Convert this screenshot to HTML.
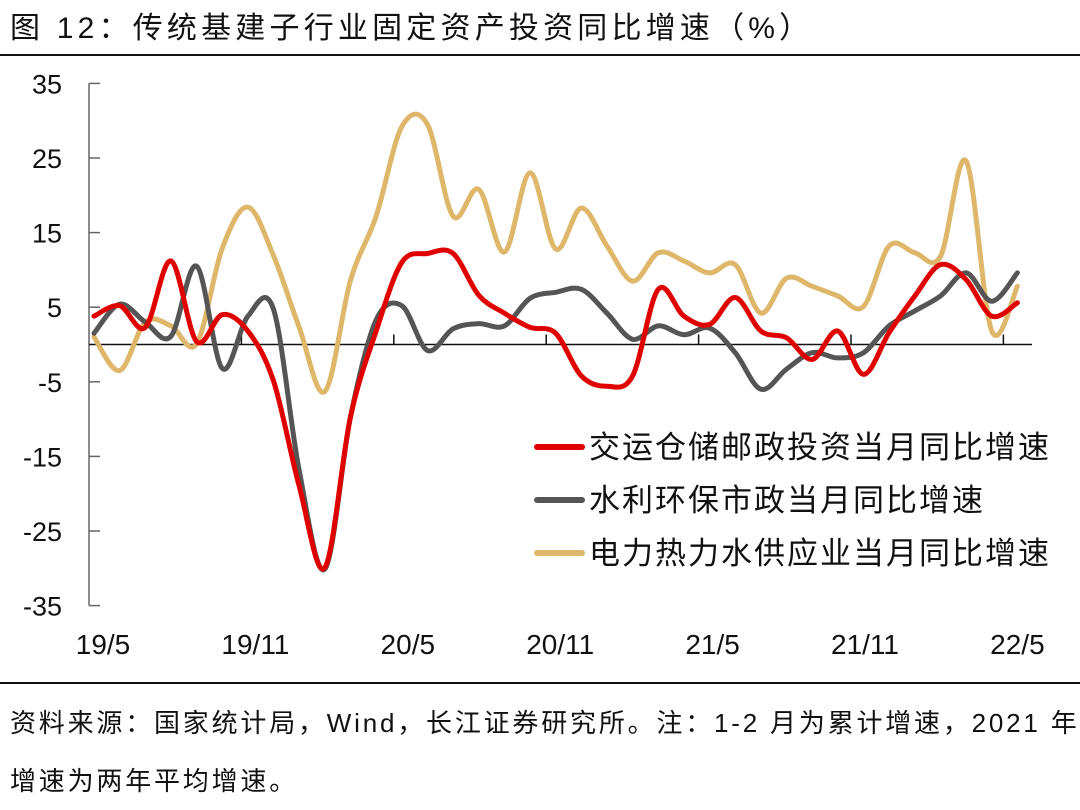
<!DOCTYPE html>
<html><head><meta charset="utf-8"><style>
body{margin:0;background:#fff;width:1080px;height:810px;overflow:hidden;font-family:"Liberation Sans","Noto Sans CJK SC",sans-serif;}
.t{position:absolute;white-space:nowrap;color:#111;}
</style></head><body>
<div class="t" style="left:10px;top:3px;font-size:30px;letter-spacing:4.2px;">图 12：传统基建子行业固定资产投资同比增速（%）</div>
<div style="position:absolute;left:0;top:54px;width:1080px;height:2px;background:#111"></div>
<svg id="chart" width="1080" height="690" style="position:absolute;left:0;top:0" font-family="Liberation Sans, Noto Sans CJK SC, sans-serif"></svg>
<div style="position:absolute;left:0;top:682px;width:1080px;height:2px;background:#111"></div>
<div class="t" style="left:10px;top:703px;font-size:26px;letter-spacing:2.8px;">资料来源：国家统计局，Wind，长江证券研究所。注：1-2 月为累计增速，2021 年</div>
<div class="t" style="left:10px;top:761px;font-size:26px;letter-spacing:2.8px;">增速为两年平均增速。</div>
<script>
const months = 37;
const xLabels = ["19/5","19/11","20/5","20/11","21/5","21/11","22/5"];
const yTicks = [35,25,15,5,-5,-15,-25,-35];
const transport = [3.8,5.2,2.3,11.2,0.4,4,1.8,-4.9,-19,-29.9,-9.7,1.8,11,12.2,12.2,6.6,4.2,2.3,1.5,-4.2,-5.6,-4.2,7.4,3.8,2.7,6.3,1.8,0.9,-2,1.8,-4,1.6,6.5,10.7,8.7,3.8,5.6];
const water = [1.5,5.4,3,1.1,10.5,-3.2,3.8,4.7,-16.9,-30.1,-9.7,3.3,5.2,-0.8,2.1,2.8,2.5,6.2,7,7.4,4.2,0.7,2.5,1.3,2.2,-1.1,-6,-3.3,-1.1,-1.8,-1.1,2.5,4.5,6.5,9.6,5.8,9.6];
const power = [1,-3.5,3,2.5,0.1,12.9,18.4,11.9,2.3,-6.3,8.6,17.2,29.2,29.5,17.2,20.8,12.4,23,12.8,18.3,13.2,8.5,12.3,11.2,9.6,10.7,4.2,8.9,7.8,6.5,5.1,13.2,12.3,11.8,24.6,1.8,7.8];
const seriesNames = ["交运仓储邮政投资当月同比增速","水利环保市政当月同比增速","电力热力水供应业当月同比增速"];
const colors = ["#e00000","#555555","#deb76b"];
const svg = document.getElementById('chart');
const NS = "http://www.w3.org/2000/svg";
const x0 = 89;
const X = i => 94 + 25.65*i;
const Y = v => 344.5 - v*7.46;
function mk(tag, attrs){const e=document.createElementNS(NS,tag);for(const k in attrs)e.setAttribute(k,attrs[k]);svg.appendChild(e);return e;}
let a = mk('line',{x1:x0,y1:Y(35),x2:x0,y2:Y(-35),stroke:'#666','stroke-width':1.5});


yTicks.forEach(v=>{
  const l = mk('line',{x1:x0,y1:Y(v),x2:x0+11,y2:Y(v),stroke:'#666','stroke-width':1.5});
  
  
  const t = mk('text',{x:62,y:Y(v)+10,'font-size':27,'text-anchor':'end',fill:'#111'});
  t.textContent = v;
  
  
});
const xa = mk('line',{x1:x0,y1:Y(0),x2:1032,y2:Y(0),stroke:'#111','stroke-width':1.5});


for(let k=1;k<=6;k++){
  const tx = 89 + 152.4*k;
  const l = mk('line',{x1:tx,y1:Y(0),x2:tx,y2:Y(0)-10,stroke:'#111','stroke-width':1.5});
  
  
}
xLabels.forEach((s,k)=>{
  const t = mk('text',{x:103+152.4*k,y:654,'font-size':28,'text-anchor':'middle',fill:'#111'});
  t.textContent = s;
  
  
});
function smooth(vals){
  const p = vals.map((v,i)=>[X(i),Y(v)]);
  let d = `M${p[0][0]},${p[0][1]}`;
  for(let i=0;i<p.length-1;i++){
    const p0=p[Math.max(0,i-1)],p1=p[i],p2=p[i+1],p3=p[Math.min(p.length-1,i+2)];
    const c1=[p1[0]+(p2[0]-p0[0])/6,p1[1]+(p2[1]-p0[1])/6];
    const c2=[p2[0]-(p3[0]-p1[0])/6,p2[1]-(p3[1]-p1[1])/6];
    d+=` C${c1[0]},${c1[1]} ${c2[0]},${c2[1]} ${p2[0]},${p2[1]}`;
  }
  return d;
}
const data = [transport, water, power];
const ids = ['transport-line','water-line','power-line'];
[2,1,0].forEach(k=>{
  const p = mk('path',{d:smooth(data[k]),fill:'none',stroke:colors[k],'stroke-width':5,'stroke-linejoin':'round','stroke-linecap':'round'});
  
  
});
seriesNames.forEach((n,k)=>{
  const y = 447 + k*53;
  const l = mk('line',{x1:537,y1:y,x2:582,y2:y,stroke:colors[k],'stroke-width':6,'stroke-linecap':'round'});
  
  
  const t = mk('text',{x:589,y:y+11,'font-size':31,'letter-spacing':2,fill:'#111'});
  t.textContent = n;
  
  
});
</script>
</body></html>
